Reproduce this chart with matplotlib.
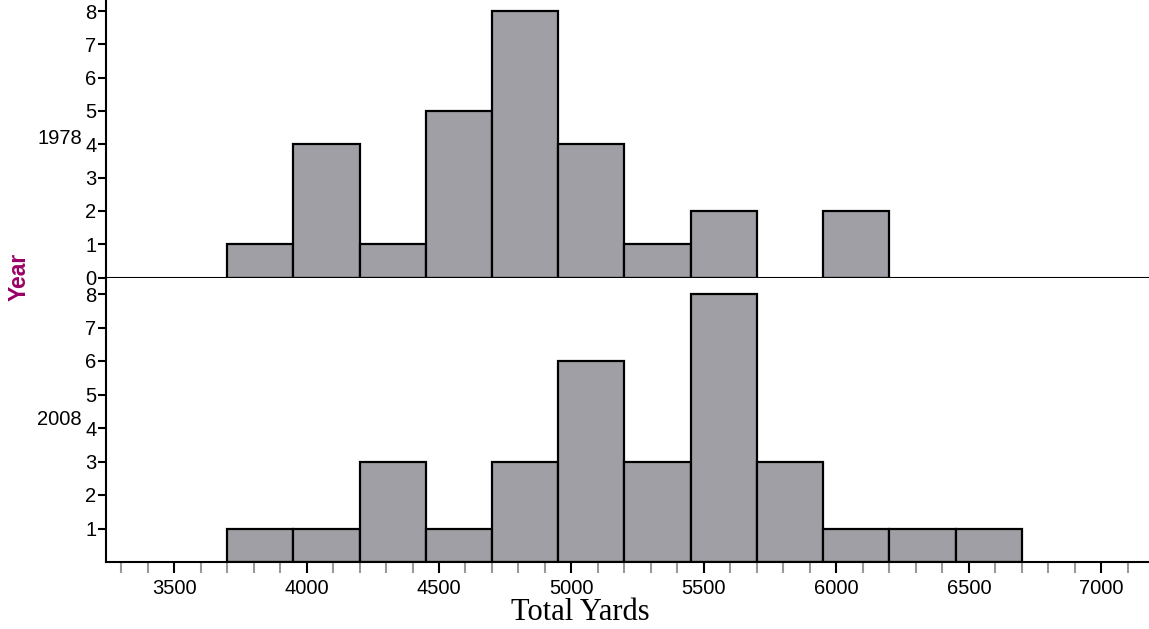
import numpy as np
import matplotlib.pyplot as plt
from matplotlib.ticker import MultipleLocator

# histogram bins (left edges) and counts per bin
bin_edges = [3700, 3950, 4200, 4450, 4700, 4950, 5200, 5450, 5700, 5950, 6200, 6450]
bin_width = 250
counts_1978 = [1, 4, 1, 5, 8, 4, 1, 2, 0, 2, 0, 0]
counts_2008 = [1, 1, 3, 1, 3, 6, 3, 8, 3, 1, 1, 1]
years = ["1978", "2008"]
x_ticks = [3500, 4000, 4500, 5000, 5500, 6000, 6500, 7000]

W, H = 1149, 629
bar_color = "#a09fa5"
fs = 14.5


def draw_hist(ax, counts):
    x = np.array(bin_edges)
    c = np.array(counts)
    keep = c > 0
    ax.bar(x[keep], c[keep], width=bin_width, align="edge",
           color=bar_color, edgecolor="black", linewidth=1.6, zorder=2)
    ax.set_xlim(3243, 7180)
    for s in ["top", "right"]:
        ax.spines[s].set_visible(False)
    ax.spines["left"].set_linewidth(1.5)
    ax.spines["bottom"].set_linewidth(1.5)
    ax.tick_params(axis="y", direction="out", length=6, width=1.5, pad=1)


fig = plt.figure(figsize=(W / 100, H / 100), dpi=100)
left = 106 / W
width = 1 - left
ax_top = fig.add_axes([left, 1 - 277.5 / H, width, 277.5 / H])
ax_bot = fig.add_axes([left, 1 - 562 / H, width, (562 - 277.5) / H])

draw_hist(ax_top, counts_1978)
ax_top.set_ylim(0, 277.5 / 33.3)
ax_top.set_yticks(range(0, 9))
ax_top.set_xticks([])
ax_top.set_yticklabels([str(v) for v in range(0, 9)], fontsize=fs, family="Liberation Sans")

draw_hist(ax_bot, counts_2008)
ax_bot.set_ylim(0, (562 - 277.5) / 33.5)
ax_bot.set_yticks(range(1, 9))
ax_bot.set_yticklabels([str(v) for v in range(1, 9)], fontsize=fs, family="Liberation Sans")
ax_bot.set_xticks(x_ticks)
ax_bot.set_xticklabels([str(v) for v in x_ticks], fontsize=fs, family="Liberation Sans")
ax_bot.xaxis.set_minor_locator(MultipleLocator(100))
ax_bot.tick_params(axis="x", which="major", direction="out", length=8, width=1.5, color="black", pad=4)
ax_bot.tick_params(axis="x", which="minor", direction="out", length=8, width=1.5, color="#999999")

# group labels
for ax, yr in zip([ax_top, ax_bot], years):
    ax.text(-24 / (W * width), 0.5, yr, transform=ax.transAxes, ha="right", va="center",
            fontsize=fs, family="Liberation Sans")

fig.text(19 / W, 1 - 277 / H, "Year", rotation=90, ha="center", va="center",
         fontsize=16.5, fontweight="bold", color="#990066", family="Liberation Sans")
fig.text(580 / W, 1 - 612 / H, "Total Yards", ha="center", va="center",
         fontsize=22, family="Liberation Serif")

fig.savefig("out.png", dpi=100)
